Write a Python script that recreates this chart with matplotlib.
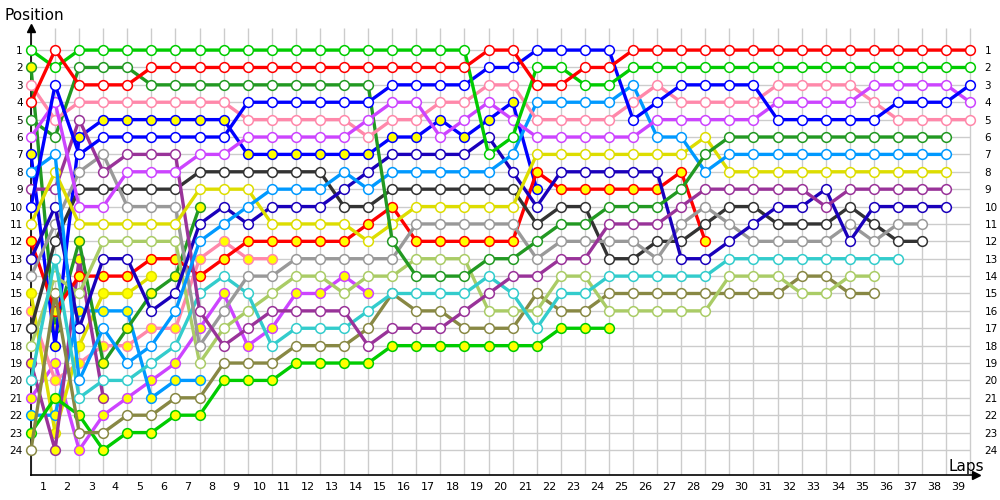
import matplotlib
matplotlib.use("Agg")
import matplotlib.pyplot as plt

# position on each lap, lap 0 = starting grid
red_a = [4, 1, 3, 3, 3, 2, 2, 2, 2, 2, 2, 2, 2, 2, 2, 2, 2, 2, 2,
         1, 1, 3, 3, 2, 2] + [1] * 15
green_a = [1, 2] + [1] * 17 + [7, 6, 2, 2, 3, 3] + [2] * 15
blue_a = [10, 3, 7, 6, 6, 6, 6, 6, 6, 4, 4, 4, 4, 4, 4, 3, 3, 3, 3,
          2, 2, 1, 1, 1, 1, 5, 4, 3, 3, 3, 3, 5, 5, 5, 5, 5, 4, 4, 4, 3]
violet_a = [6, 4, 10, 10, 8, 8, 8, 7, 7, 6, 6, 6, 6, 6, 5, 4, 4, 6, 5,
            4, 5, 6, 6, 6, 6, 6, 5, 5, 5, 5, 5, 4, 4, 4, 4, 3, 3, 3, 3, 4]
pink_a = [3, 5, 4, 4, 4, 4, 4, 4, 4, 5, 5, 5, 5, 5, 6, 5, 5, 4, 4,
          3, 3, 5, 5, 5, 5, 4, 3, 4, 4, 4, 4, 3, 3, 3, 3, 4, 5, 5, 5, 5]
dkgreen_a = [5, 6, 2, 2, 2, 3, 3, 3, 3, 3, 3, 3, 3, 3, 3, 12, 14, 14, 14,
             13, 13, 12, 11, 11, 10, 10, 10, 9, 7] + [6] * 10
sky_a = [8, 7, 20, 17, 19, 18, 16, 12, 11, 10, 9, 9, 9, 8, 9, 8, 8, 8, 8,
         8, 7, 4, 4, 4, 4, 3, 6, 6, 8] + [7] * 10
yellow_a = [11, 8, 11, 11, 11, 11, 11, 9, 9, 9, 11, 11, 11, 11, 12, 11, 10, 10, 10,
            10, 10, 7, 7, 7, 7, 7, 7, 7, 6] + [8] * 10
purple_a = [9, 9, 5, 8, 7, 7, 7, 16, 18, 17, 16, 16, 16, 16, 18, 17, 17, 17, 16,
            15, 14, 14, 13, 13, 11, 11, 11, 10, 9, 9, 9, 9, 9, 10, 9, 9, 9, 9, 9]
navy = [13, 10, 17, 13, 13, 16, 15, 11, 10, 11, 10, 10, 10, 9, 8, 7, 7, 7, 7,
        6, 8, 10, 8, 8, 8, 8, 8, 13, 13, 12, 11, 10, 10, 9, 12, 10, 10, 10, 10]
grey = [14, 11, 8, 7, 10, 10, 10, 18, 16, 14, 14, 13, 13, 13, 13, 13, 11, 11, 11,
        11, 11, 13, 12, 12, 12, 12, 13, 11, 10, 11, 12, 12, 12, 12, 11, 12, 11, 11]
dkgrey = [17, 12, 9, 9, 9, 9, 9, 8, 8, 8, 8, 8, 8, 10, 10, 9, 9, 9, 9,
          9, 9, 11, 10, 10, 13, 13, 12, 12, 11, 10, 10, 11, 11, 11, 10, 11, 12, 12]
cyan = [20, 13, 21, 20, 20, 19, 18, 15, 14, 15, 18, 17, 17, 17, 16, 15, 15, 15, 15,
        14, 15, 17, 15, 15, 14, 14, 14, 14, 14] + [13] * 8
ltgreen = [18, 14, 15, 12, 12, 12, 12, 19, 17, 16, 15, 14, 14, 15, 14, 14, 13, 13, 13,
           16, 16, 16, 14, 14, 16, 16, 16, 16, 16, 14, 14, 14, 15, 15, 14, 14]
olive = [24, 15, 23, 23, 22, 22, 21, 21, 19, 19, 19, 18, 18, 18, 17, 15, 16, 16, 17,
         17, 17, 15, 16, 16, 15, 15, 15, 15, 15, 15, 15, 15, 14, 14, 15, 15]
green_b = [23, 21, 22, 24, 23, 23, 22, 22, 20, 20, 20, 19, 19, 19, 19, 18, 18, 18, 18,
           18, 18, 18, 17, 17, 17]
red_b = [12, 16, 14, 14, 14, 13, 13, 14, 13, 12, 12, 12, 12, 12, 11, 10, 12, 12, 12,
         12, 12, 8, 9, 9, 9, 9, 9, 8, 12]
blue_b = [7, 18, 6, 5, 5, 5, 5, 5, 5, 7, 7, 7, 7, 7, 7, 6, 6, 5, 6, 5, 4, 9]
dkgreen_b = [2, 17, 12, 19, 17, 15, 14, 10]
purple_b = [19, 24, 13, 21]
sky_b = [22, 22, 16, 16, 16, 21, 20, 20]
yellow_b = [15, 23, 18, 15, 15, 14]
pink_b = [16, 20, 19, 18, 18, 17, 17, 13, 12, 13, 13]
violet_b = [21, 19, 24, 22, 21, 20, 19, 17, 15, 18, 17, 15, 15, 14, 15]

drivers = [
    (violet_b, "#cc44ff", "#ffff00"),
    (pink_b, "#ff88aa", "#ffff00"),
    (yellow_b, "#dddd00", "#ffff00"),
    (sky_b, "#0099ff", "#ffff00"),
    (purple_b, "#993399", "#ffff00"),
    (dkgreen_b, "#229922", "#ffff00"),
    (blue_b, "#0000ff", "#ffff00"),
    (red_b, "#ff0000", "#ffff00"),
    (green_b, "#00cc00", "#ffff00"),
    (olive, "#888844", "white"),
    (ltgreen, "#aacc66", "white"),
    (cyan, "#33cccc", "white"),
    (dkgrey, "#333333", "white"),
    (grey, "#999999", "white"),
    (navy, "#1a00bb", "white"),
    (purple_a, "#993399", "white"),
    (yellow_a, "#dddd00", "white"),
    (sky_a, "#0099ff", "white"),
    (dkgreen_a, "#229922", "white"),
    (pink_a, "#ff88aa", "white"),
    (violet_a, "#cc44ff", "white"),
    (blue_a, "#0000ff", "white"),
    (green_a, "#00cc00", "white"),
    (red_a, "#ff0000", "white"),
]

n_laps = 39
positions = list(range(1, 25))

fig = plt.figure(figsize=(10, 5), dpi=100)
ax = fig.add_axes([0.031, 0.05, 0.945, 0.894])

for i, (pos, col, fill) in enumerate(drivers):
    ax.plot(range(len(pos)), pos, color=col, lw=2.4, marker="o", ms=7,
            mfc=fill, mec=col, mew=1.1, zorder=3 + i * 0.01, clip_on=False)

ax.set_xlim(0, 39.24)
ax.set_ylim(25.44, -0.27)

# grid
ax.vlines(range(n_laps + 1), -0.27, 25.44, color="#cccccc", lw=1, zorder=1)
ax.hlines(positions, 0, n_laps, color="#cccccc", lw=1, zorder=1)

ax.set_xticks([k - 0.5 for k in range(1, n_laps + 1)])
ax.set_xticklabels([str(k) for k in range(1, n_laps + 1)], fontsize=8)
ax.set_yticks(positions)
ax.set_yticklabels([str(p) for p in positions], fontsize=7.5)
ax.tick_params(axis="x", length=0, pad=5)
ax.tick_params(axis="y", length=0, pad=6, labelright=True)

for s in ["top", "right"]:
    ax.spines[s].set_visible(False)
ax.spines["left"].set_linewidth(1.2)
ax.spines["bottom"].set_linewidth(1.2)
ax.plot(1, 0, ">k", transform=ax.transAxes, clip_on=False, ms=6)
ax.plot(0, 1, "^k", transform=ax.transAxes, clip_on=False, ms=6)

fig.text(0.005, 0.968, "Position", fontsize=11, va="center")
fig.text(0.966, 0.068, "Laps", fontsize=11, ha="center", va="center")

fig.savefig("out.png", dpi=100)
